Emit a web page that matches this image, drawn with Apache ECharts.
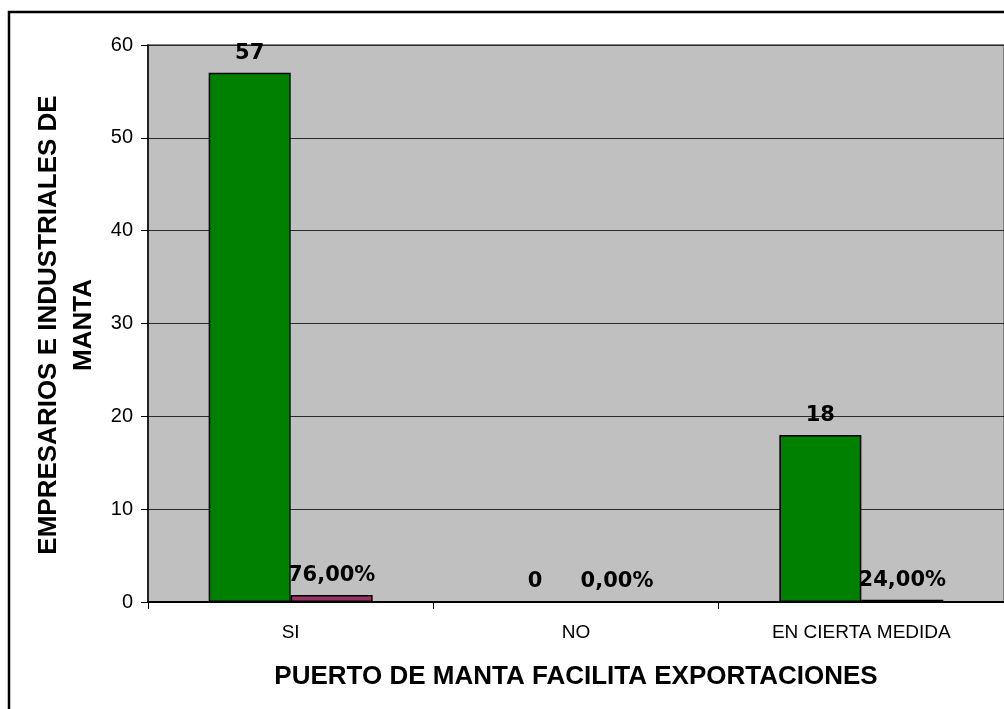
<!DOCTYPE html>
<html>
<head>
<meta charset="utf-8">
<title>Puerto de Manta facilita exportaciones</title>
<script src="https://cdn.jsdelivr.net/npm/echarts@6/dist/echarts.min.js"></script>
<style>
  html, body { margin: 0; padding: 0; background: #ffffff; }
  #chart { width: 1004px; height: 709px; }
</style>
</head>
<body>
<div id="chart"></div>
<script>
// Survey answers: does the port of Manta make exporting easier?
const categories = ['SI', 'NO', 'EN CIERTA MEDIDA'];
const counts = [57, 0, 18];            // number of respondents
const shares = [0.76, 0, 0.24];        // share of respondents (fraction)
const yTicks = { min: 0, max: 60, interval: 10 };

const xTitle = 'PUERTO DE MANTA FACILITA EXPORTACIONES';
const yTitle = 'EMPRESARIOS E INDUSTRIALES DE\nMANTA';

function pct(v) {
  return (v * 100).toFixed(2).replace('.', ',') + '%';
}

const chart = echarts.init(document.getElementById('chart'), null, { renderer: 'canvas' });

const labelFont = { fontFamily: 'DejaVu Sans', fontSize: 21, color: '#000' };

chart.setOption({
  backgroundColor: '#ffffff',
  animation: false,
  grid: {
    left: 148, top: 45, right: -2, bottom: 107,
    show: true,
    backgroundColor: '#C0C0C0',
    borderColor: '#808080',
    borderWidth: 2
  },
  xAxis: {
    type: 'category',
    data: categories,
    boundaryGap: true,
    axisLine: { lineStyle: { color: '#000', width: 2 } },
    axisTick: { show: true, length: 7, lineStyle: { color: '#000' } },
    axisLabel: { fontFamily: 'Liberation Sans', fontSize: 19, color: '#000', margin: 21 },
    name: xTitle,
    nameLocation: 'middle',
    nameGap: 62,
    nameTextStyle: { fontFamily: 'Liberation Sans', fontWeight: 'bold', fontSize: 26, color: '#000' }
  },
  yAxis: {
    type: 'value',
    min: yTicks.min,
    max: yTicks.max,
    interval: yTicks.interval,
    axisLine: { show: true, lineStyle: { color: '#000', width: 1.5 } },
    axisTick: { show: true, length: 7, lineStyle: { color: '#000' } },
    axisLabel: { fontFamily: 'Liberation Sans', fontSize: 20, color: '#000', margin: 15 },
    splitLine: { show: true, lineStyle: { color: '#2a2a2a', width: 1 } }
  },
  series: [
    {
      name: 'Empresarios',
      type: 'bar',
      data: counts,
      barWidth: 82,
      barGap: '0%',
      itemStyle: { color: '#008000', borderColor: '#000', borderWidth: 1.5 },
      label: Object.assign({ show: true, position: 'top', distance: 9, fontWeight: 'bold' }, labelFont)
    },
    {
      name: 'Porcentaje',
      type: 'bar',
      data: shares,
      barWidth: 82,
      itemStyle: { color: '#993366', borderColor: '#000', borderWidth: 1.5 },
      label: Object.assign({
        show: true, position: 'top', distance: 9, fontWeight: 'bold',
        formatter: p => pct(p.value)
      }, labelFont)
    }
  ],
  graphic: [
    {
      type: 'rect',
      shape: { x: 9, y: 12, width: 1100, height: 800 },
      style: { fill: 'none', stroke: '#000', lineWidth: 2.5 },
      silent: true
    },
    {
      type: 'text',
      x: 66, y: 325,
      rotation: Math.PI / 2,
      style: {
        text: yTitle,
        fontFamily: 'Liberation Sans',
        fontWeight: 'bold',
        fontSize: 26,
        lineHeight: 35,
        fill: '#000',
        align: 'center',
        verticalAlign: 'middle'
      }
    }
  ]
});
</script>
</body>
</html>
